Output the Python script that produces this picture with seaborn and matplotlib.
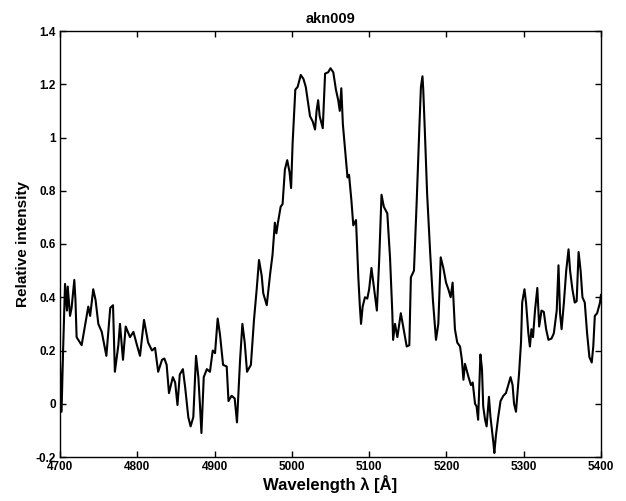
import matplotlib
matplotlib.use("Agg")
import matplotlib.pyplot as plt
import seaborn as sns
import pandas as pd

title = "akn009"
x_label = "Wavelength λ [Å]"
y_label = "Relative intensity"

wavelength = [
    4700, 4702, 4704, 4706.5, 4709, 4710, 4713, 4715, 4718.5, 4720, 4721.5, 4728,
    4734.5, 4736.6, 4739, 4743, 4746, 4749.6, 4754, 4760, 4765, 4768.6, 4771,
    4775.5, 4777.6, 4781.5, 4785, 4790.6, 4795, 4799.6, 4803.5, 4808.7, 4814,
    4819, 4823, 4827, 4832, 4835, 4838, 4841, 4846, 4849, 4852, 4855, 4859, 4862,
    4866, 4869, 4872.5, 4876, 4879, 4881, 4883, 4886, 4890, 4894, 4897.6, 4900.6,
    4904, 4907, 4911, 4915.7, 4918, 4922, 4926, 4929, 4933, 4936, 4939, 4942,
    4947, 4951, 4954.5, 4957.5, 4961, 4963, 4967.5, 4972, 4975, 4978, 4980,
    4982, 4985.5, 4988, 4991, 4994, 4997, 4999, 5001, 5004.5, 5007.5, 5011.5,
    5015, 5018, 5021, 5023.5, 5027, 5030, 5032, 5034, 5036, 5040, 5043, 5047,
    5050, 5053.6, 5057, 5060, 5062, 5064, 5066, 5069, 5072, 5074, 5077, 5079.5,
    5083, 5086, 5088, 5089.5, 5091.6, 5094.6, 5097.6, 5100, 5103, 5106, 5110,
    5113, 5116, 5119, 5123.5, 5127, 5130, 5131, 5133.5, 5136.5, 5141, 5144,
    5148.6, 5152, 5154, 5158, 5161.6, 5165, 5167, 5169, 5170, 5172, 5175, 5179,
    5182.5, 5186.5, 5189.5, 5192.6, 5196, 5199.5, 5202.5, 5205.5, 5208, 5211,
    5214, 5217.6, 5220, 5222, 5224, 5228.6, 5231.7, 5234, 5237, 5239, 5241,
    5244, 5246, 5247.6, 5250, 5252, 5255, 5257, 5260.7, 5262, 5264, 5267, 5270,
    5273.6, 5277, 5280, 5283, 5285.6, 5287.5, 5290, 5291.7, 5294, 5296.5, 5298,
    5301, 5303, 5306, 5308, 5310, 5312, 5314.6, 5317.6, 5320, 5323, 5326, 5329,
    5332, 5336, 5339, 5342.7, 5345, 5347, 5349, 5352, 5355, 5358, 5360, 5363,
    5366, 5368.5, 5371, 5373.6, 5376, 5379, 5382, 5385, 5388, 5390, 5392, 5395,
    5398.7, 5400,
]

intensity = [
    0.16, -0.03, 0.20, 0.45, 0.35, 0.44, 0.33, 0.36, 0.465, 0.39, 0.25, 0.22,
    0.33, 0.365, 0.33, 0.43, 0.39, 0.30, 0.27, 0.18, 0.36, 0.37, 0.12,
    0.22, 0.30, 0.165, 0.29, 0.25, 0.27, 0.22, 0.18, 0.315, 0.23,
    0.20, 0.21, 0.12, 0.165, 0.17, 0.146, 0.04, 0.10, 0.08, -0.005, 0.11, 0.13, 0.06,
    -0.05, -0.085, -0.05, 0.18, 0.10, 0.0, -0.11, 0.10, 0.13, 0.12, 0.20, 0.19,
    0.32, 0.26, 0.146, 0.14, 0.01, 0.03, 0.02, -0.07, 0.165, 0.30, 0.23, 0.12,
    0.146, 0.315, 0.43, 0.54, 0.48, 0.415, 0.37, 0.49, 0.56, 0.68, 0.64,
    0.68, 0.74, 0.75, 0.88, 0.915, 0.87, 0.81, 0.98, 1.18, 1.19, 1.235,
    1.22, 1.19, 1.13, 1.08, 1.06, 1.03, 1.10, 1.14, 1.08, 1.035, 1.24, 1.245,
    1.26, 1.245, 1.18, 1.14, 1.10, 1.185, 1.05, 0.95, 0.85, 0.86, 0.765, 0.67,
    0.69, 0.475, 0.365, 0.30, 0.365, 0.40, 0.395, 0.43, 0.51, 0.44, 0.35,
    0.54, 0.785, 0.74, 0.715, 0.55, 0.34, 0.24, 0.30, 0.25, 0.34, 0.29,
    0.215, 0.22, 0.475, 0.50, 0.765, 1.04, 1.19, 1.23, 1.18, 1.03, 0.79, 0.565,
    0.39, 0.24, 0.30, 0.55, 0.51, 0.455, 0.43, 0.40, 0.455, 0.28,
    0.23, 0.215, 0.165, 0.09, 0.15, 0.10, 0.07, 0.08, 0.0,
    -0.01, -0.06, 0.185, 0.13, -0.01, -0.06, -0.085, 0.026, -0.05, -0.145, -0.185, -0.12, -0.05, 0.01,
    0.03, 0.04, 0.07, 0.10, 0.07, 0.0, -0.03, 0.03, 0.115, 0.23, 0.38,
    0.43, 0.38, 0.265, 0.215, 0.28, 0.25, 0.35, 0.435, 0.29, 0.35, 0.345, 0.28,
    0.24, 0.245, 0.265, 0.35, 0.52, 0.34, 0.28, 0.38, 0.50, 0.58, 0.50, 0.43,
    0.38, 0.385, 0.57, 0.50, 0.40, 0.38, 0.265, 0.175, 0.155, 0.215, 0.33, 0.34,
    0.38, 0.41,
]

x_ticks = [4700, 4800, 4900, 5000, 5100, 5200, 5300, 5400]
y_ticks = [-0.2, 0, 0.2, 0.4, 0.6, 0.8, 1, 1.2, 1.4]
y_tick_labels = ["-0.2", "0", "0.2", "0.4", "0.6", "0.8", "1", "1.2", "1.4"]

df = pd.DataFrame({"wavelength": wavelength, "intensity": intensity})

sns.set_style("ticks")
plt.rcParams["font.family"] = ["Liberation Sans", "DejaVu Sans"]
plt.rcParams["font.weight"] = "bold"
plt.rcParams["text.color"] = "black"
plt.rcParams["axes.labelcolor"] = "black"

fig = plt.figure(figsize=(6.26, 5.01), dpi=100)
ax = fig.add_axes([60 / 626, 44 / 501, 541 / 626, 426 / 501])
sns.lineplot(data=df, x="wavelength", y="intensity", ax=ax, color="black",
             linewidth=1.5, estimator=None, sort=False)

ax.set_xlim(4700, 5400)
ax.set_ylim(-0.2, 1.4)
ax.set_xticks(x_ticks)
ax.set_xticklabels([str(t) for t in x_ticks], fontweight="bold")
ax.set_yticks(y_ticks)
ax.set_yticklabels(y_tick_labels, fontweight="bold")
ax.tick_params(direction="in", top=True, right=True, length=4, width=1,
               labelsize=8.5, colors="black", pad=3)
for s in ax.spines.values():
    s.set_visible(True)
    s.set_color("black")
    s.set_linewidth(1.0)

ax.set_title(title, fontsize=10.5, pad=6, fontweight="bold", color="black")
ax.set_xlabel(x_label, fontsize=12, labelpad=1, fontweight="bold", color="black")
ax.set_ylabel(y_label, fontsize=11, labelpad=4, fontweight="bold", color="black")

fig.savefig("out.png", dpi=100, facecolor="white")
